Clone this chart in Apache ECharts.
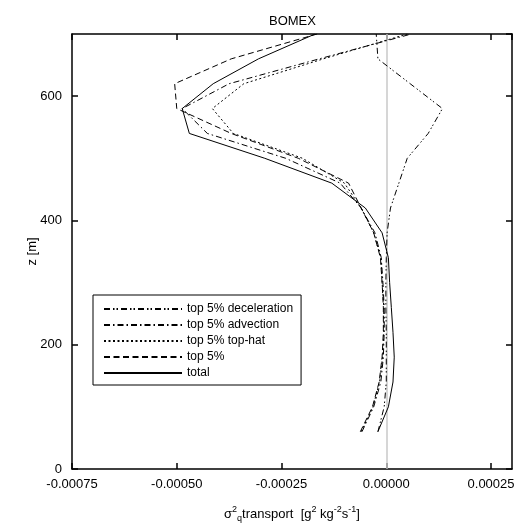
<!DOCTYPE html>
<html>
<head>
<meta charset="utf-8">
<script src="https://cdn.jsdelivr.net/npm/echarts@6/dist/echarts.min.js"></script>
<style>
html, body { margin: 0; padding: 0; background: #fff; }
#chart { width: 520px; height: 528px; }
</style>
</head>
<body>
<div id="chart"></div>
<script>
// heights of the profile levels [m]
var zLevels = [60, 100, 140, 180, 220, 260, 300, 340, 380, 420, 460, 500, 540, 580, 620, 660, 700];

// sigma_q^2 transport per series, one value per level
var deceleration = [-0.00002, -0.000005, 0, 0, 0, -0.000001, -0.000001, 0, 0.000002, 0.00001, 0.00003, 0.00005, 0.0001, 0.000134, 0.000057, -0.00002, -0.000024];
var advection = [-0.000058, -0.00003, -0.000013, -0.000007, -0.000005, -0.000005, -0.000008, -0.000012, -0.000027, -0.00006, -0.00011, -0.00024, -0.000427, -0.000487, -0.000375, -0.00016, 0.00006];
var topHat = [-0.00006, -0.000032, -0.000016, -0.000009, -0.000006, -0.000006, -0.00001, -0.000013, -0.00003, -0.00006, -0.0001, -0.0002, -0.000365, -0.000415, -0.00034, -0.00015, 0.00005];
var top5 = [-0.000062, -0.000033, -0.000017, -0.00001, -0.000007, -0.000007, -0.00001, -0.000014, -0.00003, -0.00006, -0.00009, -0.00021, -0.00037, -0.0005, -0.000505, -0.00037, -0.000165];
var total = [-0.00002, 0.000005, 0.000016, 0.000019, 0.000016, 0.000012, 0.000008, 0.000005, -0.00001, -0.00005, -0.00013, -0.00029, -0.00047, -0.000487, -0.000413, -0.000305, -0.00017];

var seriesNames = ['top 5% deceleration', 'top 5% advection', 'top 5% top-hat', 'top 5%', 'total'];
var seriesValues = [deceleration, advection, topHat, top5, total];
var dashTypes = [[6, 3, 1.5, 2, 1.5, 3], [6, 3, 1.5, 3], [2, 2.5], [6, 3.5], 'solid'];

var zeroLine = 0;

var font = 'Liberation Sans, Arial, Helvetica, sans-serif';

function pairs(values) {
	var out = [];
	for (var i = 0; i < zLevels.length; i++) {
		out.push([values[i], zLevels[i]]);
	}
	return out;
}

var series = [];
for (var k = 0; k < seriesNames.length; k++) {
	var s = {
		name: seriesNames[k],
		type: 'line',
		data: pairs(seriesValues[k]),
		symbol: 'none',
		silent: true,
		animation: false,
		lineStyle: { color: '#000', width: 1, type: dashTypes[k] },
		itemStyle: { color: '#000' },
		z: 3
	};
	series.push(s);
}
// grey zero line
series[4].markLine = {
	silent: true,
	symbol: 'none',
	label: { show: false },
	lineStyle: { color: '#c8c8c8', width: 1.5, type: 'solid' },
	data: [{ xAxis: zeroLine }],
	z: 1
};

var axisCommon = {
	axisLine: { show: true, onZero: false, lineStyle: { color: '#000', width: 1.5 } },
	axisTick: { show: true, inside: true, length: 6, lineStyle: { color: '#000', width: 1.5 } },
	splitLine: { show: false },
	nameMoveOverlap: false
};

function xAxisOf(pos, labels) {
	return Object.assign({
		type: 'value',
		position: pos,
		min: -0.00075,
		max: 0.0003,
		interval: 0.00025,
		axisLabel: {
			show: labels,
			showMaxLabel: false,
			margin: 9,
			color: '#000',
			fontSize: 13,
			fontFamily: font,
			formatter: function(v) { return v.toFixed(5); }
		}
	}, axisCommon);
}

function yAxisOf(pos, labels) {
	return Object.assign({
		type: 'value',
		position: pos,
		min: 0,
		max: 700,
		interval: 200,
		axisLabel: {
			show: labels,
			showMaxLabel: false,
			margin: 10,
			color: '#000',
			fontSize: 13,
			fontFamily: font
		}
	}, axisCommon);
}

var xBottom = xAxisOf('bottom', true);
xBottom.name = '{b|σ}{sup|2}{sub|q}{b|transport  [g}{sup|2}{b| kg}{sup|-2}{b|s}{sup|-1}{b|]}';
xBottom.nameLocation = 'middle';
xBottom.nameGap = 36;
xBottom.nameTextStyle = {
	color: '#000',
	fontFamily: font,
	rich: {
		b: { fontSize: 13, lineHeight: 18, color: '#000', fontFamily: font },
		sup: { fontSize: 9, lineHeight: 10, verticalAlign: 'top', color: '#000', fontFamily: font },
		sub: { fontSize: 9, lineHeight: 10, verticalAlign: 'bottom', color: '#000', fontFamily: font }
	}
};
var xTop = xAxisOf('top', false);

var yLeft = yAxisOf('left', true);
yLeft.name = 'z [m]';
yLeft.nameLocation = 'middle';
yLeft.nameGap = 33;
yLeft.nameTextStyle = { color: '#000', fontSize: 13, fontFamily: font };
var yRight = yAxisOf('right', false);

var option = {
	animation: false,
	backgroundColor: '#fff',
	title: {
		text: 'BOMEX',
		left: 264,
		top: 10,
		textStyle: { color: '#000', fontSize: 13, fontWeight: 'normal', fontFamily: font }
	},
	grid: { left: 72, right: 8, top: 34, bottom: 54 },
	legend: {
		data: seriesNames,
		orient: 'vertical',
		left: 93,
		top: 295,
		padding: [8, 8, 6, 10],
		itemWidth: 78,
		itemHeight: 10,
		itemGap: 4,
		borderColor: '#000',
		borderWidth: 1,
		selectedMode: false,
		itemStyle: { opacity: 0, borderWidth: 0 },
		textStyle: { color: '#000', fontSize: 12, fontFamily: font, lineHeight: 12 }
	},
	xAxis: [xBottom, xTop],
	yAxis: [yLeft, yRight],
	series: series
};

var myChart = echarts.init(document.getElementById('chart'));
myChart.setOption(option);
</script>
</body>
</html>
